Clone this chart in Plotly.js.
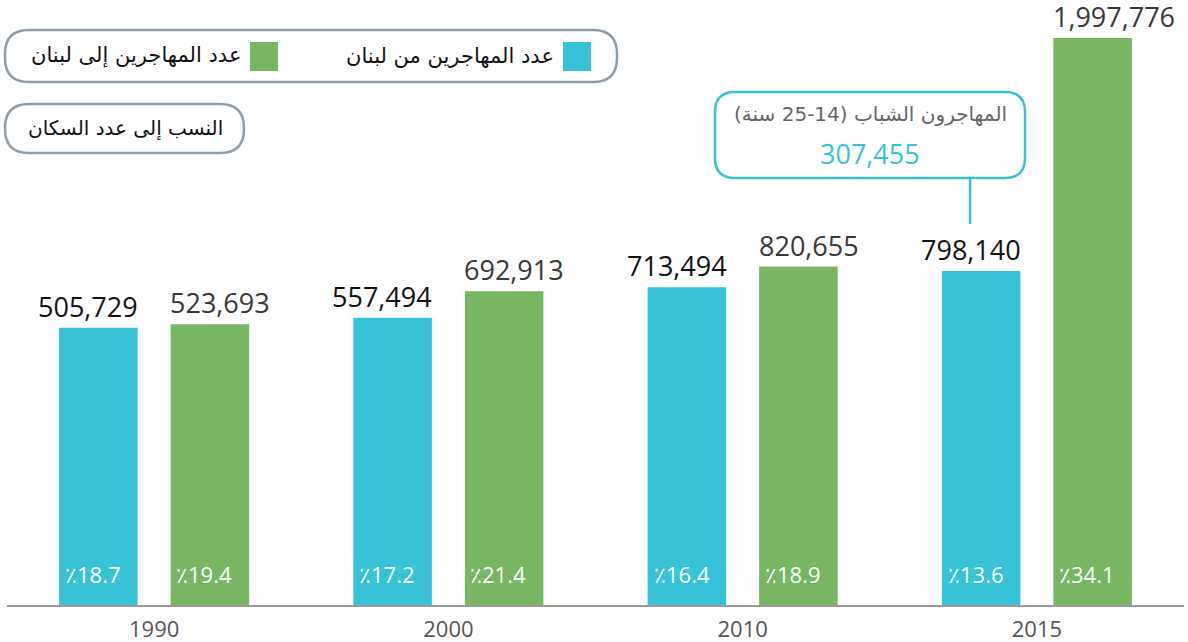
<!DOCTYPE html>
<html>
<head>
<meta charset="utf-8">
<script src="https://cdn.plot.ly/plotly-3.0.1.min.js"></script>
<style>
  html, body { margin: 0; padding: 0; background: #ffffff; }
  #chart { width: 1188px; height: 642px; }
</style>
</head>
<body>
<div id="chart"></div>
<script>
// ---- data ----
const categories = ['1990', '2000', '2010', '2015'];
const emigrants = [505729, 557494, 713494, 798140];      // عدد المهاجرين من لبنان
const immigrants = [523693, 692913, 820655, 1997776];    // عدد المهاجرين إلى لبنان
const emigrantPct = [18.7, 17.2, 16.4, 13.6];            // النسب إلى عدد السكان
const immigrantPct = [19.4, 21.4, 18.9, 34.1];
const youthEmigrants = 307455;                           // المهاجرون الشباب (14-25 سنة)
const legendLabels = ['عدد المهاجرين من لبنان', 'عدد المهاجرين إلى لبنان'];
const pctLabel = 'النسب إلى عدد السكان';
const youthLabel = 'المهاجرون الشباب (14-25 سنة)';

// ---- style ----
const BLUE = '#38c2d7';
const GREEN = '#78b664';
const BORDER = '#8e9fab';
const BASE = -923000; // visual bar baseline of the original design

const W = 1188, H = 642;
const M = {l: 7, r: 4, t: 0, b: 37};
const PW = W - M.l - M.r, PH = H - M.t - M.b;
const px = x => (x - M.l) / PW;
const py = y => (M.t + PH - y) / PH;

function roundRect(x0, y0, x1, y1, r) {
  const p = (x, y) => px(x) + ',' + py(y);
  return 'M' + p(x0 + r, y0) + ' L' + p(x1 - r, y0) + ' Q' + p(x1, y0) + ' ' + p(x1, y0 + r) +
    ' L' + p(x1, y1 - r) + ' Q' + p(x1, y1) + ' ' + p(x1 - r, y1) +
    ' L' + p(x0 + r, y1) + ' Q' + p(x0, y1) + ' ' + p(x0, y1 - r) +
    ' L' + p(x0, y0 + r) + ' Q' + p(x0, y0) + ' ' + p(x0 + r, y0) + ' Z';
}

const fmt = v => v.toLocaleString('en-US');
const fmtPct = v => '٪' + v.toFixed(1);
const RLE = '\u202B', PDF = '\u202C';
const idx = categories.map((c, i) => i);

const traces = [
  {
    type: 'bar', name: legendLabels[0], x: idx,
    y: emigrants.map(v => v - BASE), base: BASE,
    marker: {color: BLUE}, hoverinfo: 'skip'
  },
  {
    type: 'bar', name: legendLabels[1], x: idx,
    y: immigrants.map(v => v - BASE), base: BASE,
    marker: {color: GREEN}, hoverinfo: 'skip'
  }
];

const annotations = [];
idx.forEach(i => {
  annotations.push({
    x: i, y: emigrants[i], xref: 'x', yref: 'y', text: fmt(emigrants[i]),
    xanchor: 'right', yanchor: 'bottom', xshift: -14, yshift: 1, showarrow: false,
    font: {family: 'Open Sans', size: 27, color: '#111111'}
  });
  annotations.push({
    x: i, y: immigrants[i], xref: 'x', yref: 'y', text: fmt(immigrants[i]),
    xanchor: 'left', yanchor: 'bottom', xshift: 14, yshift: 1, showarrow: false,
    font: {family: 'Open Sans', size: 27, color: '#383838'}
  });
  annotations.push({
    x: i, y: BASE, xref: 'x', yref: 'y', text: fmtPct(emigrantPct[i]),
    xanchor: 'left', yanchor: 'middle', xshift: -91, yshift: 31, showarrow: false,
    font: {family: 'Open Sans', size: 22, color: '#ffffff'}
  });
  annotations.push({
    x: i, y: BASE, xref: 'x', yref: 'y', text: fmtPct(immigrantPct[i]),
    xanchor: 'left', yanchor: 'middle', xshift: 20, yshift: 31, showarrow: false,
    font: {family: 'Open Sans', size: 22, color: '#ffffff'}
  });
});

// legend texts
annotations.push({
  x: px(556), y: py(56), xref: 'paper', yref: 'paper', text: legendLabels[0],
  xanchor: 'right', yanchor: 'middle', showarrow: false,
  font: {family: 'DejaVu Sans', size: 21, color: '#111111'}
});
annotations.push({
  x: px(243), y: py(56), xref: 'paper', yref: 'paper', text: legendLabels[1],
  xanchor: 'right', yanchor: 'middle', showarrow: false,
  font: {family: 'DejaVu Sans', size: 21, color: '#111111'}
});
annotations.push({
  x: px(125), y: py(128), xref: 'paper', yref: 'paper', text: pctLabel,
  xanchor: 'center', yanchor: 'middle', showarrow: false,
  font: {family: 'DejaVu Sans', size: 20, color: '#111111'}
});
// callout
annotations.push({
  x: px(870), y: py(114), xref: 'paper', yref: 'paper', text: RLE + youthLabel + PDF,
  xanchor: 'center', yanchor: 'middle', showarrow: false,
  font: {family: 'DejaVu Sans', size: 20, color: '#666666'}
});
annotations.push({
  x: px(870), y: py(153), xref: 'paper', yref: 'paper', text: fmt(youthEmigrants),
  xanchor: 'center', yanchor: 'middle', showarrow: false,
  font: {family: 'Open Sans', size: 27, color: BLUE}
});

const shapes = [
  {type: 'path', xref: 'paper', yref: 'paper', path: roundRect(5, 30, 617, 82, 24),
   line: {color: BORDER, width: 2.5}, fillcolor: 'rgba(0,0,0,0)'},
  {type: 'rect', xref: 'paper', yref: 'paper', x0: px(563), x1: px(591), y0: py(42), y1: py(71),
   line: {width: 0}, fillcolor: BLUE},
  {type: 'rect', xref: 'paper', yref: 'paper', x0: px(250), x1: px(278), y0: py(42), y1: py(71),
   line: {width: 0}, fillcolor: GREEN},
  {type: 'path', xref: 'paper', yref: 'paper', path: roundRect(5, 104, 244, 153, 24),
   line: {color: BORDER, width: 2.5}, fillcolor: 'rgba(0,0,0,0)'},
  {type: 'path', xref: 'paper', yref: 'paper', path: roundRect(715, 92, 1025, 178, 20),
   line: {color: BLUE, width: 2.5}, fillcolor: 'rgba(0,0,0,0)'},
  {type: 'line', xref: 'paper', yref: 'paper', x0: px(970), x1: px(970), y0: py(178), y1: py(224),
   line: {color: BLUE, width: 2.5}}
];

const layout = {
  width: W, height: H,
  margin: M,
  paper_bgcolor: '#ffffff', plot_bgcolor: '#ffffff',
  showlegend: false,
  barmode: 'group', bargap: 0.242, bargroupgap: 0.296,
  xaxis: {
    type: 'linear', range: [-0.5, 3.5], tickvals: idx, ticktext: categories,
    showline: true, linecolor: '#9a9a9a', linewidth: 2,
    ticks: '', showgrid: false, zeroline: false, fixedrange: true,
    ticklabelstandoff: 4,
    tickfont: {family: 'Open Sans', size: 22, color: '#555555'}
  },
  yaxis: {
    range: [BASE, 2194000], visible: false, showgrid: false, zeroline: false, fixedrange: true
  },
  annotations: annotations,
  shapes: shapes
};

Plotly.newPlot('chart', traces, layout, {displayModeBar: false, staticPlot: true});
</script>
</body>
</html>
